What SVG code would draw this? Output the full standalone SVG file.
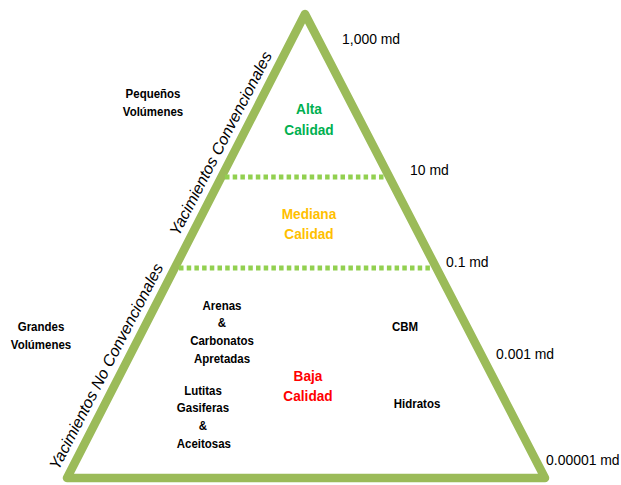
<svg xmlns="http://www.w3.org/2000/svg" width="621" height="485" viewBox="0 0 621 485">
<style>
.edge{fill:none;stroke:#9BBB59;stroke-width:8.5;stroke-linejoin:round}
.dash{stroke:#92D050;stroke-width:5;stroke-dasharray:4.5 3.2}
.md{font-family:"Liberation Sans",Arial,sans-serif;font-size:15.5px;fill:#000}
.lbl{font-family:"Liberation Sans",Arial,sans-serif;font-size:13.5px;font-weight:bold;fill:#000;text-anchor:middle}
.q{font-family:"Liberation Sans",Arial,sans-serif;font-size:15px;font-weight:bold;text-anchor:middle}
.rot{font-family:"Liberation Sans",Arial,sans-serif;font-size:16px;font-style:italic;fill:#000;text-anchor:middle}
</style>
<rect width="621" height="485" fill="#fff"/>
<g id="pyramid">
<polygon class="edge" points="305,14 67,478 545,478"/>
</g>
<g id="connectors">
<line class="dash" x1="225" y1="177" x2="386" y2="177"/>
<line class="dash" x1="179" y1="268" x2="433" y2="268"/>
</g>
<g id="scale">
<text class="md" transform="translate(342,44) scale(0.9,1)">1,000 md</text>
<text class="md" transform="translate(410,175) scale(0.9,1)">10 md</text>
<text class="md" transform="translate(446,267) scale(0.9,1)">0.1 md</text>
<text class="md" transform="translate(496,359) scale(0.9,1)">0.001 md</text>
<text class="md" transform="translate(546,465) scale(0.9,1)">0.00001 md</text>
</g>
<g id="alta" transform="translate(309,0) scale(0.91,1)">
<text class="q" x="0" y="114" fill="#00B050">Alta</text>
<text class="q" x="0" y="135" fill="#00B050">Calidad</text>
</g>
<g id="mediana" transform="translate(309,0) scale(0.91,1)">
<text class="q" x="0" y="219" fill="#FFC000">Mediana</text>
<text class="q" x="0" y="239" fill="#FFC000">Calidad</text>
</g>
<g id="baja" transform="translate(308,0) scale(0.91,1)">
<text class="q" x="0" y="381" fill="#FF0000">Baja</text>
<text class="q" x="0" y="401" fill="#FF0000">Calidad</text>
</g>
<g id="pequenos" transform="translate(153,0) scale(0.85,1)">
<text class="lbl" x="0" y="98">Pequeños</text>
<text class="lbl" x="0" y="116">Volúmenes</text>
</g>
<g id="grandes" transform="translate(41,0) scale(0.85,1)">
<text class="lbl" x="0" y="331">Grandes</text>
<text class="lbl" x="0" y="349">Volúmenes</text>
</g>
<g id="arenas" transform="translate(222,0) scale(0.85,1)">
<text class="lbl" x="0" y="310">Arenas</text>
<text class="lbl" x="0" y="327">&amp;</text>
<text class="lbl" x="0" y="345">Carbonatos</text>
<text class="lbl" x="0" y="363">Apretadas</text>
</g>
<g id="lutitas" transform="translate(203,0) scale(0.85,1)">
<text class="lbl" x="0" y="395">Lutitas</text>
<text class="lbl" x="0" y="412">Gasiferas</text>
<text class="lbl" x="0" y="430">&amp;</text>
<text class="lbl" x="1" y="448">Aceitosas</text>
</g>
<g id="cbm" transform="translate(405,0) scale(0.85,1)">
<text class="lbl" x="0" y="331">CBM</text>
</g>
<g id="hidratos" transform="translate(417,0) scale(0.85,1)">
<text class="lbl" x="0" y="408">Hidratos</text>
</g>
<g id="convencionales">
<text class="rot" transform="translate(225.5,146) rotate(-62.7)">Yacimientos Convencionales</text>
</g>
<g id="noconvencionales">
<text class="rot" transform="translate(111,369) rotate(-62.7)">Yacimientos No Convencionales</text>
</g>
</svg>
